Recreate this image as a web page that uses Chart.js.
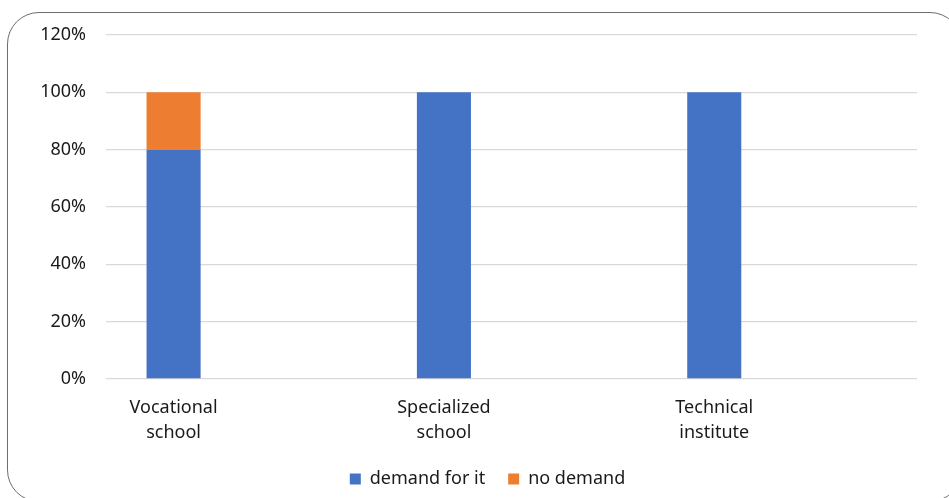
<!DOCTYPE html>
<html>
<head>
<meta charset="utf-8">
<script src="https://cdn.jsdelivr.net/npm/chart.js@4.4.1/dist/chart.umd.min.js"></script>
<style>
  html, body { margin: 0; padding: 0; background: #fff; overflow: hidden; }
  #wrap { position: relative; width: 949px; height: 498px; overflow: hidden; }
  #frame {
    position: absolute; left: 7px; top: 12px; width: 955px; height: 490px;
    border: 1.5px solid #6e6e6e; border-radius: 32px; box-sizing: border-box;
  }
  #chart { position: absolute; left: 0; top: 0; }
</style>
</head>
<body>
<div id="wrap">
  <div id="frame"></div>
  <canvas id="chart" width="949" height="498"></canvas>
</div>
<script>
const categories = ["Vocational school", "Specialized school", "Technical institute"];
const demandForIt = [80, 100, 100];
const noDemand = [20, 0, 0];
const yTicks = [0, 20, 40, 60, 80, 100, 120];

const FONT = "'Noto Sans', 'Open Sans', sans-serif";
const TEXT = "#1a1a1a";

const toPoints = (values) => values.map((v, i) => ({ x: i, y: v }));

// the legend sits centred on the frame, not on the canvas
const legendShift = {
  id: "legendShift",
  afterLayout(chart) {
    chart.legend.left += 29;
    chart.legend.right += 29;
  },
};

function drawChart() {
  const canvas = document.getElementById("chart");

  new Chart(canvas, {
    type: "bar",
    data: {
      datasets: [
        {
          label: "demand for it",
          data: toPoints(demandForIt),
          backgroundColor: "#4472C4",
          barPercentage: 1,
          categoryPercentage: 0.2,
        },
        {
          label: "no demand",
          data: toPoints(noDemand),
          backgroundColor: "#ED7D31",
          barPercentage: 1,
          categoryPercentage: 0.2,
        },
      ],
    },
    options: {
      responsive: false,
      animation: false,
      layout: { padding: { left: 0, right: 32, top: 35, bottom: 0 } },
      plugins: {
        legend: {
          position: "bottom",
          labels: {
            color: TEXT,
            font: { family: FONT, size: 18 },
            boxWidth: 11,
            boxHeight: 11,
            padding: 23,
          },
        },
        tooltip: { enabled: false },
      },
      scales: {
        x: {
          type: "linear",
          stacked: true,
          offset: false,
          min: -0.25,
          max: 2.75,
          afterBuildTicks: (axis) => {
            axis.ticks = categories.map((c, i) => ({ value: i }));
          },
          afterFit: (axis) => { axis.height = 68; },
          grid: { display: false, drawTicks: false },
          border: { display: false },
          ticks: {
            color: TEXT,
            padding: 17,
            maxRotation: 0,
            autoSkip: false,
            font: { family: FONT, size: 18, lineHeight: 1.35 },
            callback: (value) => {
              const name = categories[value];
              return name ? name.split(" ") : "";
            },
          },
        },
        y: {
          stacked: true,
          min: 0,
          max: 120,
          afterBuildTicks: (axis) => {
            axis.ticks = yTicks.map((v) => ({ value: v }));
          },
          afterFit: (axis) => { axis.width = 106; },
          grid: { color: "#d9d9d9", lineWidth: 1.3, drawTicks: false },
          border: { display: false },
          ticks: {
            color: TEXT,
            padding: 20,
            font: { family: FONT, size: 18 },
            callback: (value) => value + "%",
          },
        },
      },
    },
    plugins: [legendShift],
  });
}

window.addEventListener("DOMContentLoaded", drawChart);
</script>
</body>
</html>
